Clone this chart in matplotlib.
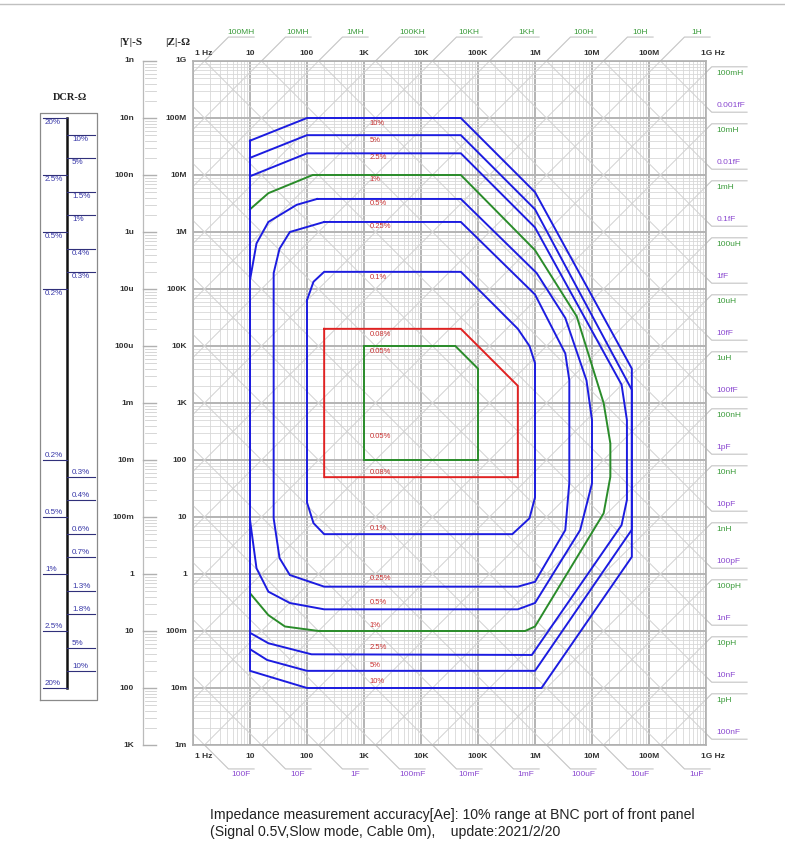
import numpy as np
import matplotlib
matplotlib.use('Agg')
import matplotlib.pyplot as plt
from matplotlib.ticker import LogLocator

plt.rcParams['font.family'] = ['Liberation Sans', 'DejaVu Sans']

# ---------------- data ----------------
freq_ticks = [1, 10, 100, 1e3, 1e4, 1e5, 1e6, 1e7, 1e8, 1e9]
freq_labels = ['1 Hz', '10', '100', '1K', '10K', '100K', '1M', '10M', '100M', '1G Hz']
z_ticks = [1e9, 1e8, 1e7, 1e6, 1e5, 1e4, 1e3, 1e2, 1e1, 1, 1e-1, 1e-2, 1e-3]
z_labels = ['1G', '100M', '10M', '1M', '100K', '10K', '1K', '100', '10', '1', '100m', '10m', '1m']
y_labels = ['1n', '10n', '100n', '1u', '10u', '100u', '1m', '10m', '100m', '1', '10', '100', '1K']

L_top = [1e8, 1e7, 1e6, 1e5, 1e4, 1e3, 1e2, 1e1, 1e0]
L_top_labels = ['100MH', '10MH', '1MH', '100KH', '10KH', '1KH', '100H', '10H', '1H']
L_right = [1e-1, 1e-2, 1e-3, 1e-4, 1e-5, 1e-6, 1e-7, 1e-8, 1e-9, 1e-10, 1e-11, 1e-12]
L_right_labels = ['100mH', '10mH', '1mH', '100uH', '10uH', '1uH', '100nH', '10nH', '1nH',
                  '100pH', '10pH', '1pH']
C_right = [1e-18, 1e-17, 1e-16, 1e-15, 1e-14, 1e-13, 1e-12, 1e-11, 1e-10, 1e-9, 1e-8, 1e-7]
C_right_labels = ['0.001fF', '0.01fF', '0.1fF', '1fF', '10fF', '100fF', '1pF', '10pF', '100pF',
                  '1nF', '10nF', '100nF']
C_bottom = [1e2, 1e1, 1e0, 1e-1, 1e-2, 1e-3, 1e-4, 1e-5, 1e-6]
C_bottom_labels = ['100F', '10F', '1F', '100mF', '10mF', '1mF', '100uF', '10uF', '1uF']

# accuracy contours (frequency Hz, |Z| ohm)
f_10 = [10, 100, 5e4, 1e6, 5e7, 5e7, 1.3e6, 100, 10, 10]
z_10 = [4e7, 1e8, 1e8, 5e6, 4e3, 2, 0.01, 0.01, 0.02, 4e7]
f_5 = [10, 100, 5e4, 1e6, 5e7, 5e7, 1e6, 100, 20, 10, 10]
z_5 = [2e7, 5e7, 5e7, 2.5e6, 1.7e3, 6, 0.02, 0.02, 0.031, 0.048, 2e7]
f_2p5 = [10, 100, 5e4, 1e6, 3.3e7, 4.1e7, 4.1e7, 3.3e7, 8.8e5, 120, 21, 10, 10]
z_2p5 = [9.5e6, 2.4e7, 2.4e7, 1.2e6, 2.1e3, 500, 20, 7.2, 0.038, 0.039, 0.061, 0.093, 9.5e6]
f_1 = [10, 21, 126, 5e4, 1e6, 5.4e6, 1.6e7, 2.1e7, 2.1e7, 1.6e7, 1e6, 6.7e5, 160, 41, 21, 10, 10]
z_1 = [2.5e6, 4.8e6, 1e7, 1e7, 4.8e5, 3.3e4, 1e3, 195, 51, 11.6, 0.12, 0.1, 0.1, 0.12, 0.19, 0.46, 2.5e6]
f_0p5 = [150, 5e4, 1.07e6, 3.4e6, 8e6, 1e7, 1e7, 6.2e6, 1e6, 5e5, 200, 50, 21, 13, 10, 10, 13, 21, 66, 150]
z_0p5 = [3.8e6, 3.8e6, 1.9e5, 3.1e4, 2.5e3, 500, 39, 5.9, 0.31, 0.24, 0.24, 0.31, 0.49, 1.26, 8.9,
         1.44e5, 6.3e5, 1.5e6, 3e6, 3.8e6]
f_0p25 = [200, 5e4, 1e6, 3.4e6, 4e6, 4e6, 3.4e6, 1e6, 5e5, 200, 50, 33, 26, 26, 33, 50, 200]
z_0p25 = [1.5e6, 1.5e6, 8e4, 7.4e3, 2.5e3, 40, 5.9, 0.73, 0.6, 0.6, 0.96, 1.9, 9.5, 1.9e5, 5.1e5, 1e6, 1.5e6]
f_0p1 = [100, 130, 200, 5e4, 5e5, 8e5, 1e6, 1e6, 8e5, 4e5, 200, 130, 100, 100]
z_0p1 = [6.4e4, 1.34e5, 2e5, 2e5, 2e4, 1e4, 5e3, 22, 9.5, 5, 5, 7.8, 18, 6.4e4]
f_0p08 = [200, 5e4, 5e5, 5e5, 200, 200]
z_0p08 = [2e4, 2e4, 2e3, 50, 50, 2e4]
f_0p05 = [1e3, 4e4, 1e5, 1e5, 1e3, 1e3]
z_0p05 = [1e4, 1e4, 4e3, 100, 100, 1e4]

contour_label_text = ['10%', '5%', '2.5%', '1%', '0.5%', '0.25%', '0.1%', '0.08%', '0.05%',
                      '0.05%', '0.08%', '0.1%', '0.25%', '0.5%', '1%', '2.5%', '5%', '10%']
contour_label_z = [8.07e7, 4.0e7, 2.0e7, 8.2e6, 3.2e6, 1.27e6, 1.6e5, 1.6e4, 7.9e3,
                   256, 61, 6.3, 0.82, 0.32, 0.127, 0.051, 0.025, 0.0129]
contour_label_f = 1.27e3

dcr_left_z = [1e8, 1e7, 1e6, 1e5, 1e2, 1e1, 1, 1e-1, 1e-2]
dcr_left_labels = ['20%', '2.5%', '0.5%', '0.2%', '0.2%', '0.5%', '1%', '2.5%', '20%']
dcr_right_z = [5e7, 2e7, 5e6, 2e6, 5e5, 2e5, 50, 20, 5, 2, 0.5, 0.2, 0.05, 0.02]
dcr_right_labels = ['10%', '5%', '1.5%', '1%', '0.4%', '0.3%', '0.3%', '0.4%', '0.6%', '0.7%',
                    '1.3%', '1.8%', '5%', '10%']

# ---------------- figure ----------------
W, H = 785, 847
fig = plt.figure(figsize=(W / 100, H / 100), dpi=100)
X0, X1, Y0, Y1 = 193, 706, 61, 745
ax = fig.add_axes([X0 / W, 1 - Y1 / H, (X1 - X0) / W, (Y1 - Y0) / H])
ax.set_xscale('log')
ax.set_yscale('log')
ax.set_xlim(1, 1e9)
ax.set_ylim(1e-3, 1e9)
for a in (ax.xaxis, ax.yaxis):
    a.set_major_locator(LogLocator(base=10, numticks=30))
    a.set_minor_locator(LogLocator(base=10, subs=np.arange(2, 10), numticks=300))
ax.tick_params(which='both', length=0, labelbottom=False, labelleft=False)
ax.set_axisbelow(True)
ax.grid(True, which='major', color='#b4b4b4', lw=1.4)
ax.grid(True, which='minor', color='#d8d8d8', lw=0.6)
for s in ax.spines.values():
    s.set_color('#b0b0b0')
    s.set_linewidth(1.2)

GRID_DIAG = '#d2d2d2'
fline = np.array([1e-2, 1e11])
for k in range(-16, 12):
    ax.plot(fline, 2 * np.pi * fline * 10.0 ** k, color=GRID_DIAG, lw=0.7, zorder=1)
for k in range(-22, 6):
    ax.plot(fline, 1 / (2 * np.pi * fline * 10.0 ** k), color=GRID_DIAG, lw=0.7, zorder=1)

BLUE, GREEN, RED = '#1c1ce0', '#2a8c2a', '#e02222'
contours = [(f_1, z_1, GREEN), (f_0p05, z_0p05, GREEN),
            (f_10, z_10, BLUE), (f_5, z_5, BLUE), (f_2p5, z_2p5, BLUE),
            (f_0p5, z_0p5, BLUE), (f_0p25, z_0p25, BLUE), (f_0p1, z_0p1, BLUE),
            (f_0p08, z_0p08, RED)]
for fv, zv, c in contours:
    ax.plot(fv, zv, color=c, lw=1.4, zorder=3, solid_joinstyle='miter')

for t, z in zip(contour_label_text, contour_label_z):
    ax.text(contour_label_f, z, t, color='#c83030', fontsize=5.5, ha='left', va='center', zorder=4)

# frequency tick labels
for f, t in zip(freq_ticks, freq_labels):
    ha = 'center'
    x = f
    if t == '1 Hz':
        ha, x = 'left', 1.08
    if t == '1G Hz':
        ha, x = 'left', 1e9 * 10 ** -0.09
    for zz in (1.38e9, 6.4e-4):
        ax.text(x, zz, t, ha=ha, va='center', fontsize=6, fontweight='bold', color='#333333')

LEAD = '#c4c4c4'
LCOL, CCOL = '#3c9c3c', '#8a48d0'
d1, d2 = 10 ** 0.42, 10 ** 0.45
for L, t in zip(L_top, L_top_labels):
    f0 = 1e9 / (2 * np.pi * L)
    ax.plot([f0, f0 * d1, f0 * d1 * d2], [1e9, 1e9 * d1, 1e9 * d1], color=LEAD, lw=0.8, clip_on=False)
    ax.text(f0 * d1 * 10 ** 0.22, 1e9 * d1 * 10 ** 0.02, t, color=LCOL, fontsize=6, ha='center', va='bottom')
for C, t in zip(C_bottom, C_bottom_labels):
    f0 = 1 / (2 * np.pi * 1e-3 * C)
    ax.plot([f0, f0 * d1, f0 * d1 * d2], [1e-3, 1e-3 / d1, 1e-3 / d1], color=LEAD, lw=0.8, clip_on=False)
    ax.text(f0 * d1 * 10 ** 0.22, 1e-3 / d1 / 10 ** 0.03, t, color=CCOL, fontsize=6, ha='center', va='top')
e1, e2 = 10 ** 0.1, 10 ** 0.72
for L, t in zip(L_right, L_right_labels):
    z0 = 2 * np.pi * 1e9 * L
    ax.plot([1e9, 1e9 * e1, 1e9 * e2], [z0, z0 * e1, z0 * e1], color=LEAD, lw=0.8, clip_on=False)
    ax.text(1e9 * 10 ** 0.19, z0 / 10 ** 0.02, t, color=LCOL, fontsize=6, ha='left', va='center')
for C, t in zip(C_right, C_right_labels):
    z0 = 1 / (2 * np.pi * 1e9 * C)
    ax.plot([1e9, 1e9 * e1, 1e9 * e2], [z0, z0 / e1, z0 / e1], color=LEAD, lw=0.8, clip_on=False)
    ax.text(1e9 * 10 ** 0.19, z0 * 10 ** 0.02, t, color=CCOL, fontsize=6, ha='left', va='center')

# ---------------- left panel ----------------
axL = fig.add_axes([0, 1 - Y1 / H, X0 / W, (Y1 - Y0) / H], sharey=ax)
axL.set_xlim(0, X0)
axL.axis('off')

# |Y| and |Z| scales
for zt, zl, yl in zip(z_ticks, z_labels, y_labels):
    axL.text(187, zt, zl, ha='right', va='center', fontsize=6, fontweight='bold', color='#333333')
    axL.text(134, zt, yl, ha='right', va='center', fontsize=6, fontweight='bold', color='#333333')
axL.plot([143, 143], [1e-3, 1e9], color='#bbbbbb', lw=0.9, clip_on=False)
for k in range(-3, 9):
    axL.plot([143, 156], [10.0 ** k, 10.0 ** k], color='#b0b0b0', lw=1.0, clip_on=False)
    for m in range(2, 10):
        axL.plot([145, 156], [m * 10.0 ** k] * 2, color='#d0d0d0', lw=0.6, clip_on=False)
axL.plot([143, 156], [1e9, 1e9], color='#b0b0b0', lw=1.0, clip_on=False)
axL.text(131, 2.15e9, '|Y|-S', ha='center', va='center', fontsize=8, fontweight='bold',
         family='Liberation Serif', color='#222222')
axL.text(178, 2.15e9, '|Z|-Ω', ha='center', va='center', fontsize=8, fontweight='bold',
         family='Liberation Serif', color='#222222')

# DCR panel
zt_box, zb_box = 1.23e8, 6.2e-3
axL.plot([40, 97, 97, 40, 40], [zb_box, zb_box, zt_box, zt_box, zb_box], color='#8a8a8a', lw=0.9, clip_on=False)
axL.text(70, 2.33e8, 'DCR-Ω', ha='center', va='center', fontsize=7.5, fontweight='bold',
         family='Liberation Serif', color='#222222')
axL.plot([67, 67], [1e8, 1e-2], color='#111111', lw=1.8, clip_on=False)
DCRC = '#3838a8'
for z, t in zip(dcr_left_z, dcr_left_labels):
    axL.plot([43, 67], [z, z], color='#30307a', lw=0.8, clip_on=False)
    off = 10 ** -0.08 if z > 1e3 else 10 ** 0.08
    axL.text(45, z * off, t, color=DCRC, fontsize=5.8, ha='left', va='center')
for z, t in zip(dcr_right_z, dcr_right_labels):
    axL.plot([67, 95], [z, z], color='#30307a', lw=0.8, clip_on=False)
    off = 10 ** -0.08 if z > 1e3 else 10 ** 0.08
    axL.text(72, z * off, t, color=DCRC, fontsize=5.8, ha='left', va='center')

# caption
fig.text(210 / W, 1 - 815 / H, 'Impedance measurement accuracy[Ae]: 10% range at BNC port of front panel',
         fontsize=10.1, color='#222222', va='center', ha='left')
fig.text(210 / W, 1 - 832 / H, '(Signal 0.5V,Slow mode, Cable 0m),    update:2021/2/20',
         fontsize=10.1, color='#222222', va='center', ha='left')
fig.add_artist(plt.Line2D([0, 1], [1 - 4 / H, 1 - 4 / H], color='#c0c0c0', lw=1.0))

fig.savefig('out.png', dpi=100, facecolor='white')
